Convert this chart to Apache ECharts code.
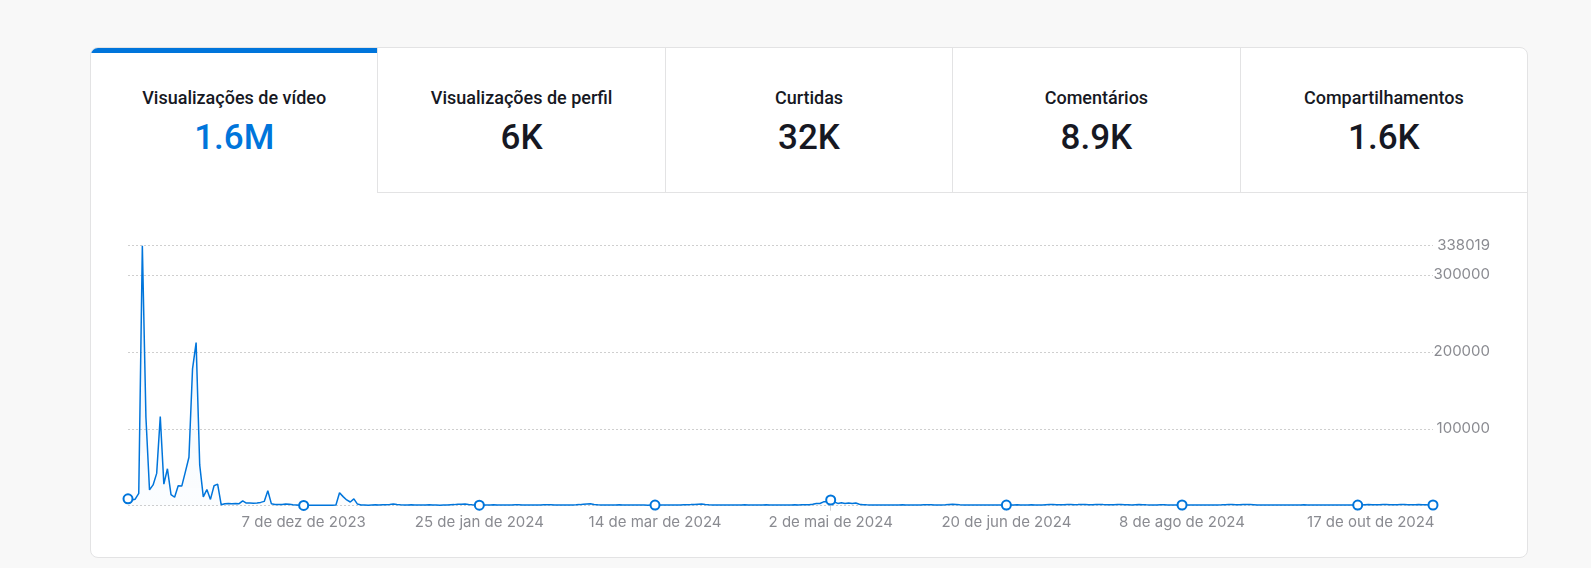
<!DOCTYPE html>
<html>
<head>
<meta charset="utf-8">
<script src="https://cdn.jsdelivr.net/npm/echarts@6/dist/echarts.min.js"></script>
<style>
  html, body { margin:0; padding:0; width:1591px; height:568px; overflow:hidden; background:#f8f8f8; }
  .card { position:absolute; left:90px; top:47px; width:1438px; height:511px; box-sizing:border-box;
          background:#fff; border:1px solid #e3e3e4; border-radius:8px; overflow:hidden; }
  .tabs { position:absolute; left:0; top:0; width:100%; height:145px; display:flex; }
  .tab { position:relative; flex:1 1 0; box-sizing:border-box; height:145px;
         border-left:1px solid #e3e3e4; border-bottom:1px solid #e3e3e4; font-family:Roboto, "Noto Sans", sans-serif; color:#161823; }
  .tab:first-child { border-left:none; }
  .tab.active { border-bottom:none; }
  .tab.active::before { content:""; position:absolute; left:0; top:0; right:0; height:5px; background:#0075DB; }
  .tab .t { position:absolute; left:0; right:0; top:38px; height:24px; line-height:24px; text-align:center; font-size:18px; font-weight:500; }
  .tab .v { position:absolute; left:0; right:0; top:69px; height:42px; line-height:42px; text-align:center; font-size:35px; font-weight:500; }
  .tab.active .v { color:#0075DB; }
  #chart { position:absolute; left:0; top:0; width:1591px; height:568px; }
</style>
</head>
<body>
<div class="card">
  <div class="tabs">
    <div class="tab active"><div class="t">Visualizações de vídeo</div><div class="v">1.6M</div></div>
    <div class="tab"><div class="t">Visualizações de perfil</div><div class="v">6K</div></div>
    <div class="tab"><div class="t">Curtidas</div><div class="v">32K</div></div>
    <div class="tab"><div class="t">Comentários</div><div class="v">8.9K</div></div>
    <div class="tab"><div class="t">Compartilhamentos</div><div class="v">1.6K</div></div>
  </div>
</div>
<div id="chart"></div>
<script>
// Date ranges covered by the daily data (categories)
const dateRanges = [["2023-10-19", "2024-08-27"], ["2024-09-18", "2024-11-07"]];
const monthNames = ["jan","fev","mar","abr","mai","jun","jul","ago","set","out","nov","dez"];
const yMax = 338019;
const yTickStep = 100000;

// Daily video views
const videoViews = [
  9000, 7500, 8500, 16000, 338019, 115000, 20500, 27000, 42000, 116000,
  28000, 48000, 14500, 11000, 26000, 25500, 44000, 63000, 178000, 212000,
  53000, 11500, 21000, 8200, 26000, 28000, 1200, 2600, 2800, 2600,
  2700, 2600, 6300, 3400, 3500, 3300, 3600, 4300, 5600, 19500,
  2400, 1700, 1500, 1500, 2300, 1800, 1200, 900, 600, 400,
  500, 450, 600, 550, 700, 650, 500, 600, 800, 16800,
  11800, 7500, 4800, 8800, 2100, 900, 800, 700, 900, 1100,
  1000, 1200, 1300, 1600, 2200, 1500, 1200, 1000, 900, 1100,
  1000, 800, 900, 1000, 1100, 900, 800, 700, 900, 1000,
  1200, 1400, 1800, 2000, 2300, 1600, 1200, 1000, 700, 800,
  900, 1000, 1100, 1000, 900, 800, 900, 1000, 1100, 1200,
  1000, 900, 800, 900, 1000, 900, 1100, 1300, 1100, 900,
  800, 900, 1000, 1000, 900, 1100, 1400, 1800, 2200, 2500,
  1700, 1200, 1000, 900, 800, 900, 1000, 1100, 1000, 900,
  800, 900, 1000, 900, 800, 700, 800, 800, 900, 1000,
  1000, 900, 800, 900, 1000, 1100, 1200, 1400, 1700, 2000,
  2200, 1600, 1200, 1000, 900, 800, 900, 1000, 900, 800,
  900, 1000, 1100, 1000, 900, 800, 900, 1000, 1100, 1000,
  900, 800, 900, 1000, 900, 1000, 1100, 1000, 1100, 1200,
  1300, 2000, 3000, 2800, 5000, 5200, 7400, 4800, 3000, 3700,
  3000, 3600, 3000, 3500, 2000, 1300, 1100, 1000, 900, 800,
  900, 1000, 900, 800, 900, 1000, 1100, 1000, 900, 800,
  900, 1000, 1100, 1200, 1100, 1000, 900, 1000, 1200, 1500,
  1800, 1500, 1200, 1000, 900, 800, 900, 1000, 900, 800,
  900, 1000, 900, 800, 900, 800, 900, 1000, 1100, 1000,
  900, 1000, 1100, 1000, 900, 1000, 1200, 1400, 1500, 1300,
  1100, 1300, 1600, 1500, 1200, 1400, 1700, 1500, 1300, 1200,
  1500, 1700, 1400, 1200, 1100, 1300, 1500, 1400, 1200, 1100,
  1000, 1200, 1400, 1300, 1100, 1000, 900, 1000, 1200, 1100,
  1000, 900, 800, 900, 900, 900, 1000, 900, 800, 900,
  1000, 900, 800, 900, 1000, 1100, 1300, 1500, 1400, 1200,
  1300, 1500, 1600, 1400, 1200, 1000, 900, 800, 900, 1000,
  900, 800, 900, 1000, 900, 800, 900, 1000, 1100, 1000,
  900, 800, 900, 1000, 900, 800, 900, 1000, 900, 800,
  900, 1000, 900, 800, 1000, 1200, 1400, 1300, 1100, 1300,
  1500, 1400, 1200, 1100, 1300, 1500, 1400, 1200, 1100, 1300,
  1400, 1200, 1100, 1000, 900
];

// Build category list from the date ranges
const categories = [];
dateRanges.forEach(([a, b]) => {
  const d = new Date(a + "T00:00:00Z");
  const end = new Date(b + "T00:00:00Z");
  while (d <= end) {
    categories.push(d.toISOString().slice(0, 10));
    d.setUTCDate(d.getUTCDate() + 1);
  }
});

const labelStep = 49;
function fmtDate(s) {
  const p = s.split("-");
  return parseInt(p[2], 10) + " de " + monthNames[parseInt(p[1], 10) - 1] + " de " + p[0];
}

const blue = "#0075DB";
const grey = "#8a8b91";
const chart = echarts.init(document.getElementById("chart"), null, { renderer: "canvas" });
chart.setOption({
  animation: false,
  backgroundColor: "transparent",
  grid: { left: 128, right: 158, top: 245.7, bottom: 62.3 },
  xAxis: {
    type: "category",
    boundaryGap: false,
    data: categories,
    axisLine: { show: false },
    axisTick: {
      show: true,
      interval: function (i) { return i > 0 && i % labelStep === 0; },
      length: 5,
      lineStyle: { color: "#d4d4d4" }
    },
    axisLabel: {
      interval: labelStep - 1,
      margin: 9,
      color: grey,
      fontSize: 15,
      fontFamily: "Inter",
      formatter: function (v, i) {
        if (i === 0) return "";
        if (i === 7 * labelStep) return "{r|" + fmtDate(v) + "}";
        return fmtDate(v);
      },
      rich: { r: { padding: [0, 0, 0, 26], color: grey, fontSize: 15, fontFamily: "Inter" } }
    },
    splitLine: { show: false }
  },
  yAxis: {
    type: "value",
    position: "right",
    min: 0,
    max: yMax,
    interval: yTickStep,
    axisLine: { show: false },
    axisTick: { show: false },
    axisLabel: {
      showMinLabel: false,
      showMaxLabel: true,
      align: "right",
      margin: 57,
      color: grey,
      fontSize: 15,
      fontFamily: "Inter",
      formatter: function (v) { return String(v); }
    },
    splitLine: { show: true, lineStyle: { color: "#cfcfcf", type: [2, 2], width: 1 } }
  },
  series: [{
    type: "line",
    data: videoViews,
    color: blue,
    showSymbol: true,
    showAllSymbol: true,
    symbol: function (v, p) {
      return (p.dataIndex % labelStep === 0 || p.dataIndex === videoViews.length - 1) ? "emptyCircle" : "none";
    },
    symbolSize: 9,
    itemStyle: { color: blue, borderColor: blue, borderWidth: 1.5 },
    lineStyle: { color: blue, width: 1.5 },
    areaStyle: {
      color: new echarts.graphic.LinearGradient(0, 0, 0, 1, [
        { offset: 0, color: "rgba(0,117,219,0.10)" },
        { offset: 1, color: "rgba(0,117,219,0.02)" }
      ])
    },
    z: 3
  }]
});
</script>
</body>
</html>
